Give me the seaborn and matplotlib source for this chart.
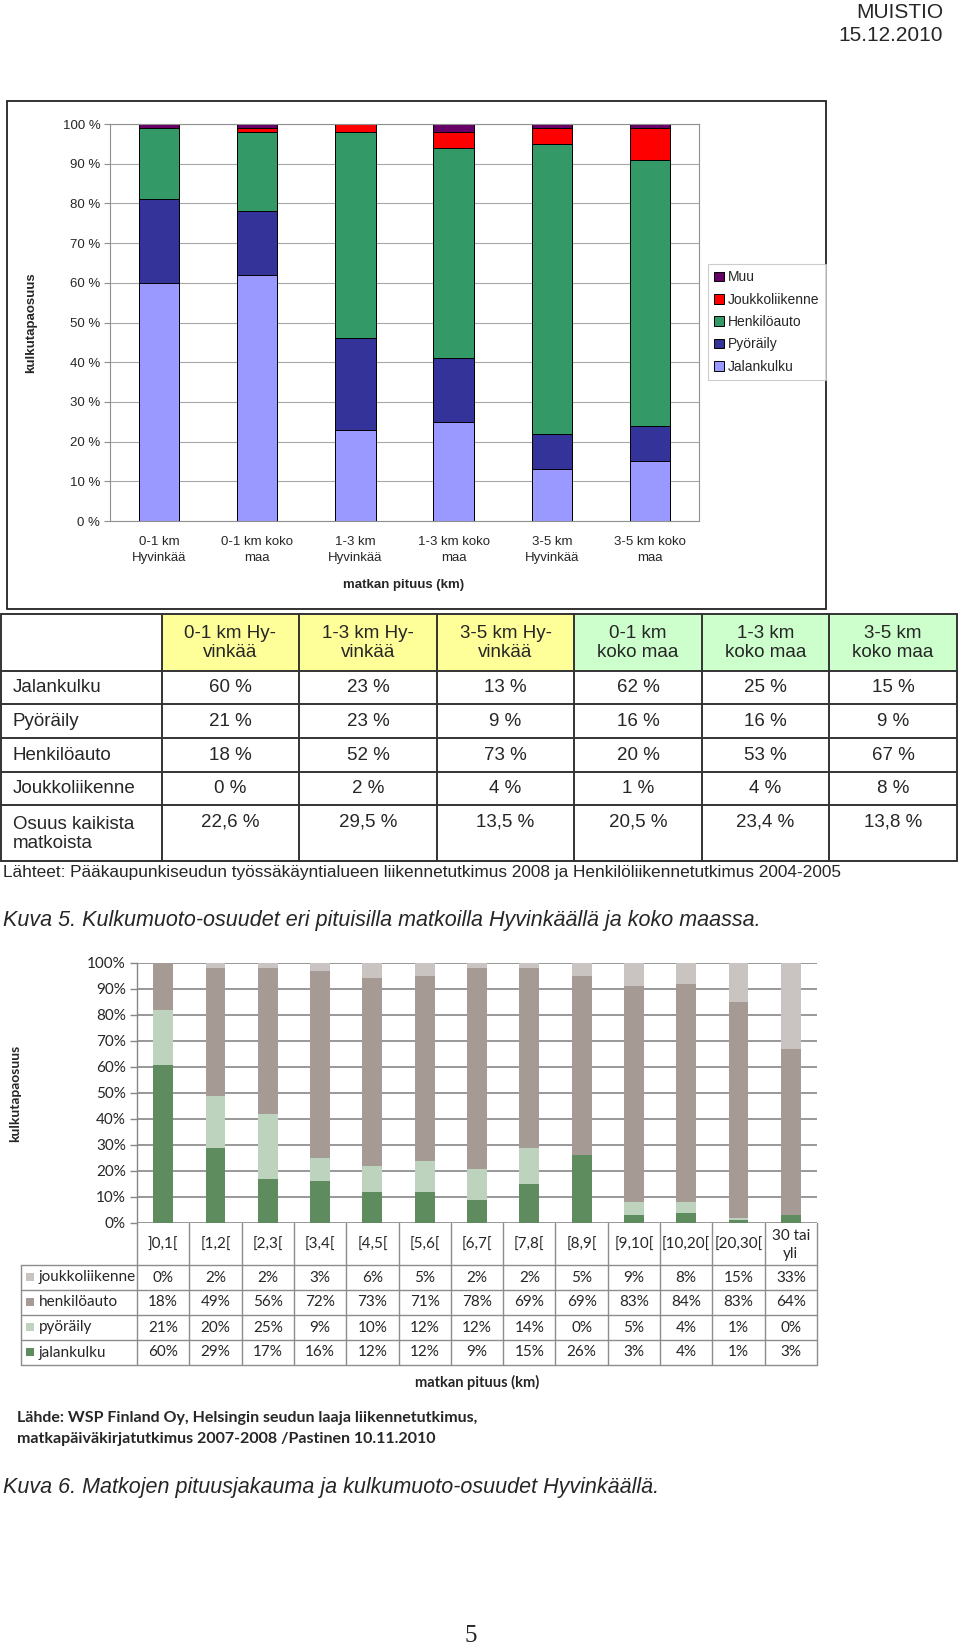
import matplotlib
matplotlib.use('Agg')
import matplotlib.pyplot as plt
import matplotlib.transforms as mtransforms
from matplotlib.patches import Patch, Rectangle
import seaborn as sns
import pandas as pd

# Sivun koko pikseleinä
W, H = 960, 1648

# --- KUVA 5: kulkutavat matkan pituuden mukaan ---
tyypit1 = ['Jalankulku', 'Pyöräily', 'Henkilöauto', 'Joukkoliikenne', 'Muu']
sarakkeet1 = ['0-1 km Hyvinkää', '1-3 km Hyvinkää', '3-5 km Hyvinkää',
              '0-1 km koko maa', '1-3 km koko maa', '3-5 km koko maa']
otsikot1 = ['0-1 km Hy-\nvinkää', '1-3 km Hy-\nvinkää', '3-5 km Hy-\nvinkää',
            '0-1 km\nkoko maa', '1-3 km\nkoko maa', '3-5 km\nkoko maa']
jalankulku1 = [60, 23, 13, 62, 25, 15]
pyoraily1 = [21, 23, 9, 16, 16, 9]
henkiloauto1 = [18, 52, 73, 20, 53, 67]
joukko1 = [0, 2, 4, 1, 4, 8]
muu1 = [1, 0, 1, 1, 2, 1]
osuus1 = ['22,6 %', '29,5 %', '13,5 %', '20,5 %', '23,4 %', '13,8 %']
# järjestys kaaviossa ja sen x-akselin tekstit
jarjestys1 = ['0-1 km Hyvinkää', '0-1 km koko maa', '1-3 km Hyvinkää',
              '1-3 km koko maa', '3-5 km Hyvinkää', '3-5 km koko maa']
xteksti1 = ['0-1 km\nHyvinkää', '0-1 km koko\nmaa', '1-3 km\nHyvinkää',
            '1-3 km koko\nmaa', '3-5 km\nHyvinkää', '3-5 km koko\nmaa']

# --- KUVA 6: kulkutavat pituusluokittain Hyvinkäällä ---
pituudet2 = [']0,1[', '[1,2[', '[2,3[', '[3,4[', '[4,5[', '[5,6[', '[6,7[',
             '[7,8[', '[8,9[', '[9,10[', '[10,20[', '[20,30[', '30 tai\nyli']
tyypit2 = ['jalankulku', 'pyöräily', 'henkilöauto', 'joukkoliikenne']
jalankulku2 = [60, 29, 17, 16, 12, 12, 9, 15, 26, 3, 4, 1, 3]
pyoraily2 = [21, 20, 25, 9, 10, 12, 12, 14, 0, 5, 4, 1, 0]
henkiloauto2 = [18, 49, 56, 72, 73, 71, 78, 69, 69, 83, 84, 83, 64]
joukko2 = [0, 2, 2, 3, 6, 5, 2, 2, 5, 9, 8, 15, 33]

VARIT1 = {'Jalankulku': '#9999FF', 'Pyöräily': '#333399', 'Henkilöauto': '#339966',
          'Joukkoliikenne': '#FF0000', 'Muu': '#660066'}
VARIT2 = {'jalankulku': '#5F8C5F', 'pyöräily': '#BDD3BD', 'henkilöauto': '#A69A94',
          'joukkoliikenne': '#C9C4C1'}

sns.set_theme(style="white")
plt.rcParams['font.family'] = ['Liberation Sans', 'DejaVu Sans']


def px(x0, y0, x1, y1):
    # pikselilaatikko -> figuurin koordinaatit
    return [x0 / W, 1 - y1 / H, (x1 - x0) / W, (y1 - y0) / H]


def pitka_taulu(kategoriat, tyypit, sarjat):
    rivit = []
    for t, arvot in zip(tyypit, sarjat):
        for k, v in zip(kategoriat, arvot):
            rivit.append({'kategoria': k, 'tyyppi': t, 'osuus': v})
    return pd.DataFrame(rivit)


def pinottu(ax, df, order, tyypit, varit, leveys, reuna, lw):
    df = df.copy()
    df['kumul'] = df.groupby('kategoria')['osuus'].cumsum()
    # ylin kertymä ensin, alemmat päälle
    for t in reversed(tyypit):
        sns.barplot(data=df[df['tyyppi'] == t], x='kategoria', y='kumul', order=order,
                    color=varit[t], saturation=1, width=leveys, errorbar=None,
                    edgecolor=reuna, linewidth=lw, ax=ax)


fig = plt.figure(figsize=(W / 100, H / 100), dpi=100)
bg = fig.add_axes([0, 0, 1, 1])
bg.set_xlim(0, W)
bg.set_ylim(H, 0)
bg.axis('off')

# Otsake
bg.text(943, 12, 'MUISTIO', ha='right', va='center', fontsize=15)
bg.text(943, 35, '15.12.2010', ha='right', va='center', fontsize=15)

# ================= KAAVIO 1 =================
bg.add_patch(Rectangle((7, 101), 819, 508, fill=False, edgecolor='#222222', lw=1.3))
ax1 = fig.add_axes(px(110, 124, 699, 521))
df1 = pitka_taulu(sarakkeet1, tyypit1, [jalankulku1, pyoraily1, henkiloauto1, joukko1, muu1])
pinottu(ax1, df1, jarjestys1, tyypit1, VARIT1, 0.41, 'black', 0.7)
ax1.set_ylim(0, 100)
ax1.set_yticks(range(0, 101, 10))
ax1.set_yticklabels([f'{v} %' for v in range(0, 101, 10)], fontsize=9.5)
ax1.set_xticks(range(len(jarjestys1)))
ax1.set_xticklabels(xteksti1, fontsize=9.5, linespacing=1.4)
ax1.set_xticks([i - 0.5 for i in range(len(jarjestys1) + 1)], minor=True)
ax1.tick_params(axis='x', which='major', length=0, pad=11)
ax1.tick_params(axis='x', which='minor', length=4, color='#909090', width=0.8)
ax1.tick_params(axis='y', length=4, color='#909090', width=0.8, pad=3, left=True)
ax1.yaxis.grid(True, color='#A8A8A8', lw=0.8)
ax1.set_axisbelow(True)
for s in ax1.spines.values():
    s.set_color('#909090')
    s.set_linewidth(0.8)
ax1.set_xlabel('')
ax1.set_ylabel('')
bg.text(31, 323, 'kulkutapaosuus', rotation=90, ha='center', va='center',
        fontsize=9.5, fontweight='bold')
bg.text(404, 585, 'matkan pituus (km)', ha='center', va='center', fontsize=9.5,
        fontweight='bold')
kahvat = [Patch(facecolor=VARIT1[t], edgecolor='black', lw=0.7, label=t)
          for t in reversed(tyypit1)]
leg = ax1.legend(handles=kahvat, loc='center', bbox_to_anchor=(767 / W, 1 - 322 / H),
                 bbox_transform=fig.transFigure, fontsize=10, frameon=True,
                 fancybox=False, edgecolor='#C0C0C0', handlelength=0.7,
                 handleheight=0.7, handletextpad=0.3, labelspacing=0.6,
                 borderpad=0.45, borderaxespad=0)
leg.get_frame().set_linewidth(0.8)

# ================= TAULUKKO 1 =================
sar_x = [1, 162, 299, 437, 574, 702, 829, 957]
rivi_y = [614, 671, 704, 738, 772, 805, 861]
for i in range(1, 7):
    vari = '#FFFF99' if i <= 3 else '#CCFFCC'
    bg.add_patch(Rectangle((sar_x[i], rivi_y[0]), sar_x[i + 1] - sar_x[i],
                           rivi_y[1] - rivi_y[0], facecolor=vari, edgecolor='none'))
for y in rivi_y:
    bg.plot([sar_x[0], sar_x[-1]], [y, y], color='#333333', lw=1.4)
for x in sar_x:
    bg.plot([x, x], [rivi_y[0], rivi_y[-1]], color='#333333', lw=1.4)
TF = 13.5
for i, ots in enumerate(otsikot1):
    xc = (sar_x[i + 1] + sar_x[i + 2]) / 2
    bg.text(xc, 643, ots, ha='center', va='center', fontsize=TF, linespacing=1.1)
taulurivit = [jalankulku1, pyoraily1, henkiloauto1, joukko1]
for r, (nimi, arvot) in enumerate(zip(tyypit1[:4], taulurivit)):
    yc = (rivi_y[r + 1] + rivi_y[r + 2]) / 2
    bg.text(13, yc, nimi, ha='left', va='center', fontsize=TF)
    for i, v in enumerate(arvot):
        xc = (sar_x[i + 1] + sar_x[i + 2]) / 2
        bg.text(xc, yc, f'{v} %', ha='center', va='center', fontsize=TF)
bg.text(13, 834, 'Osuus kaikista\nmatkoista', ha='left', va='center', fontsize=TF,
        linespacing=1.15)
for i, v in enumerate(osuus1):
    xc = (sar_x[i + 1] + sar_x[i + 2]) / 2
    bg.text(xc, 822, v, ha='center', va='center', fontsize=TF)
bg.text(3, 872, 'Lähteet: Pääkaupunkiseudun työssäkäyntialueen liikennetutkimus 2008 ja '
        'Henkilöliikennetutkimus 2004-2005', ha='left', va='center', fontsize=12.4)
bg.text(3, 920, 'Kuva 5. Kulkumuoto-osuudet eri pituisilla matkoilla Hyvinkäällä ja koko maassa.',
        ha='left', va='center', fontsize=15.5, style='italic')

# ================= KAAVIO 2 =================
LATO = ['Lato', 'DejaVu Sans']
ax2 = fig.add_axes(px(137, 963, 817, 1223))
df2 = pitka_taulu(pituudet2, tyypit2, [jalankulku2, pyoraily2, henkiloauto2, joukko2])
# Excelin 100 % pinottu: osuudet skaalataan summaan
df2['osuus'] = df2['osuus'] / df2.groupby('kategoria')['osuus'].transform('sum') * 100
pinottu(ax2, df2, pituudet2, tyypit2, VARIT2, 0.38, 'none', 0)
ax2.set_ylim(0, 100)
ax2.set_xlim(-0.5, len(pituudet2) - 0.5)
ax2.set_yticks(range(0, 101, 10))
ax2.set_yticklabels([f'{v}%' for v in range(0, 101, 10)], fontsize=11, family=LATO)
ax2.set_xticks([])
ax2.tick_params(axis='y', length=5, color='#868686', width=1, pad=3, left=True)
ax2.yaxis.grid(True, color='#868686', lw=1.2)
ax2.set_axisbelow(True)
for k in ['top', 'right', 'bottom']:
    ax2.spines[k].set_visible(False)
ax2.spines['left'].set_color('#868686')
ax2.spines['left'].set_linewidth(1)
ax2.set_xlabel('')
ax2.set_ylabel('')
bg.text(15, 1093, 'kulkutapaosuus', rotation=90, ha='center', va='center',
        fontsize=10, fontweight='bold', family=LATO)

# Taulukko kaavion alla: sarakkeet kaavion omasta x-asteikosta
tr = mtransforms.blended_transform_factory(ax2.transData, bg.transData)
n2 = len(pituudet2)
ylin, otsala, alin = 1223, 1265, 1365
rivit2 = [1265, 1290, 1315, 1340, 1365]
TV = '#8C8C8C'
for i in range(n2 + 1):
    bg.plot([i - 0.5, i - 0.5], [ylin, alin], color=TV, lw=1, transform=tr)
bg.plot([21, 21], [otsala, alin], color=TV, lw=1)
for y in rivit2:
    bg.plot([21, 817], [y, y], color=TV, lw=1)
for i, nimi in enumerate(pituudet2):
    bg.text(i, 1245, nimi, ha='center', va='center', fontsize=11, family=LATO,
            linespacing=1.35, transform=tr)
taulu2 = [('joukkoliikenne', joukko2), ('henkilöauto', henkiloauto2),
          ('pyöräily', pyoraily2), ('jalankulku', jalankulku2)]
for r, (nimi, arvot) in enumerate(taulu2):
    yc = (rivit2[r] + rivit2[r + 1]) / 2
    bg.add_patch(Rectangle((26, yc - 4.5), 8, 8, facecolor=VARIT2[nimi], edgecolor='none'))
    bg.text(39, yc, nimi, ha='left', va='center', fontsize=11, family=LATO)
    for i, v in enumerate(arvot):
        bg.text(i, yc, f'{v}%', ha='center', va='center', fontsize=11, family=LATO,
                transform=tr)
bg.text(477, 1382, 'matkan pituus (km)', ha='center', va='center', fontsize=10.5,
        fontweight='bold', family=LATO)
bg.text(17, 1418, 'Lähde: WSP Finland Oy, Helsingin seudun laaja liikennetutkimus,',
        ha='left', va='center', fontsize=11.5, fontweight='bold', family=LATO)
bg.text(17, 1439, 'matkapäiväkirjatutkimus 2007-2008 /Pastinen 10.11.2010',
        ha='left', va='center', fontsize=11.5, fontweight='bold', family=LATO)
bg.text(3, 1487, 'Kuva 6. Matkojen pituusjakauma ja kulkumuoto-osuudet Hyvinkäällä.',
        ha='left', va='center', fontsize=15.5, style='italic')
bg.text(471, 1636, '5', ha='center', va='center', fontsize=18, family='Liberation Serif')

fig.savefig('out.png', dpi=100)
plt.close(fig)
